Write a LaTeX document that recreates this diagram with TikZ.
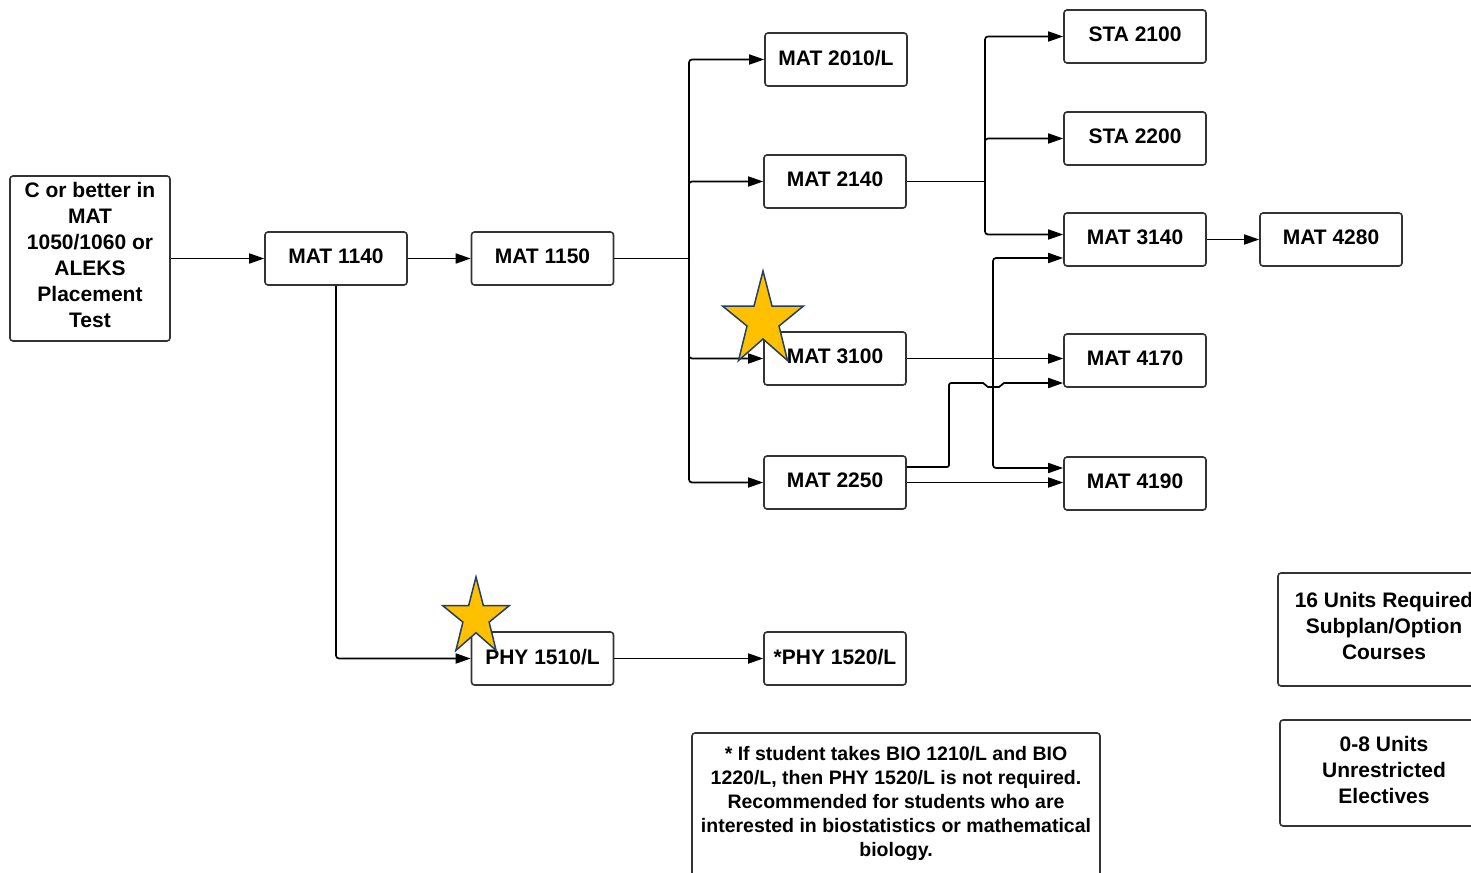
\documentclass[tikz,border=0pt]{standalone}
\usepackage{fontspec}
\setmainfont{Liberation Sans}
\usetikzlibrary{arrows.meta}
\definecolor{boxline}{HTML}{333333}
\definecolor{stargold}{HTML}{FFC000}
\definecolor{starnavy}{HTML}{243F60}
\begin{document}
\begin{tikzpicture}[x=1pt,y=-1pt,
  course/.style={draw=boxline, line width=1.6pt, rounded corners=3pt,
    minimum width=142pt, minimum height=53pt, align=center, inner sep=2pt,
    text depth=4pt, font=\fontsize{21}{26}\selectfont\bfseries},
  conn/.style={draw=black, line width=1.7pt, rounded corners=3pt},
  arr/.style={conn, -{Triangle[length=15pt,width=10pt]}},
  notefont/.style={align=center, font=\fontsize{19.5}{24}\selectfont\bfseries},
  goldstar/.pic={\path[fill=stargold, draw=starnavy, line width=1.5pt, line join=miter]
    (0,0) -- (9,35) -- (40.5,35) -- (16,55) -- (24.5,89.5) -- (0,68)
    -- (-24.5,89.5) -- (-16,55) -- (-40.5,35) -- (-9,35) -- cycle;}
]
\useasboundingbox[fill=white] (0,0) rectangle (1471,872);

% nodes
\node[course, minimum width=160pt, minimum height=165pt, text depth=7pt] (pre) at (90,258.5)
  {C or better in\\MAT\\1050/1060 or\\ALEKS\\Placement\\Test};
\node[course] (m1140) at (336,258.5) {MAT 1140};
\node[course] (m1150) at (542.5,258.5) {MAT 1150};
\node[course] (m2010) at (836,59.5) {MAT 2010/L};
\node[course] (m2140) at (835,181.5) {MAT 2140};
\node[course] (m3100) at (835,358.5) {MAT 3100};
\node[course] (m2250) at (835,482.5) {MAT 2250};
\node[course] (sta2100) at (1135,36.5) {STA 2100};
\node[course] (sta2200) at (1135,138.5) {STA 2200};
\node[course] (m3140) at (1135,239.5) {MAT 3140};
\node[course] (m4280) at (1331,239.5) {MAT 4280};
\node[course] (m4170) at (1135,360.5) {MAT 4170};
\node[course] (m4190) at (1135,483.5) {MAT 4190};
\node[course] (p1510) at (542.5,658.5) {PHY 1510/L};
\node[course] (p1520) at (835,658.5) {*PHY 1520/L};
\node[course, minimum width=212pt, minimum height=113pt, text depth=7pt] (req) at (1384,629.5)
  {16 Units Required\\Subplan/Option\\Courses};
\node[course, minimum width=208pt, minimum height=106pt, text depth=7pt] (elec) at (1384,773)
  {0-8 Units\\Unrestricted\\Electives};
\node[notefont] (note) at (896,803)
  {* If student takes BIO 1210/L and BIO\\1220/L, then PHY 1520/L is not required.\\Recommended for students who are\\interested in biostatistics or mathematical\\biology.};
\draw[draw=boxline, line width=1.6pt, rounded corners=3pt]
  (692,890) -- (692,733) -- (1100,733) -- (1100,890);

% junction coordinates
\coordinate (j1) at (689,258.5);
\coordinate (j2) at (985,181.5);
\coordinate (j3) at (993,358.5);

% connectors
\draw[arr] (pre) -- (m1140);
\draw[arr] (m1140) -- (m1150);
\draw[arr] (m1140.south) |- (p1510.west);
\draw[arr] (p1510) -- (p1520);

\draw[conn] (m1150.east) -- (j1);
\draw[arr] (j1) |- (m2010.west);
\draw[arr] (j1) |- (m2140.west);
\draw[arr] (j1) |- (m3100.west);
\draw[arr] (j1) |- (m2250.west);

\draw[conn] (m2140.east) -- (j2);
\draw[arr] (j2) |- (sta2100.west);
\draw[arr] (j2) |- (sta2200.west);
\draw[arr] (j2) |- ([yshift=5pt]m3140.west);

\draw[arr] (m3140) -- (m4280);

\draw[arr] (m3100.east) -- (m3100.east -| m4170.west);
\draw[arr] (j3) |- ([yshift=-18.5pt]m3140.west);
\draw[arr] (j3) |- ([yshift=15.5pt]m4190.west);

\draw[arr, rounded corners=2pt] ([yshift=15.5pt]m2250.east) -- (949,467) -- (949,383)
  -- (985,383) -- (986,387) -- (1001,387) -- (1002,383) -- ([yshift=-22.5pt]m4170.west);
\draw[arr] (m2250.east) -- (m2250.east -| m4190.west);

% stars
\pic at (763,271) {goldstar};
\pic[scale=0.82] at (476,577) {goldstar};
\end{tikzpicture}
\end{document}
